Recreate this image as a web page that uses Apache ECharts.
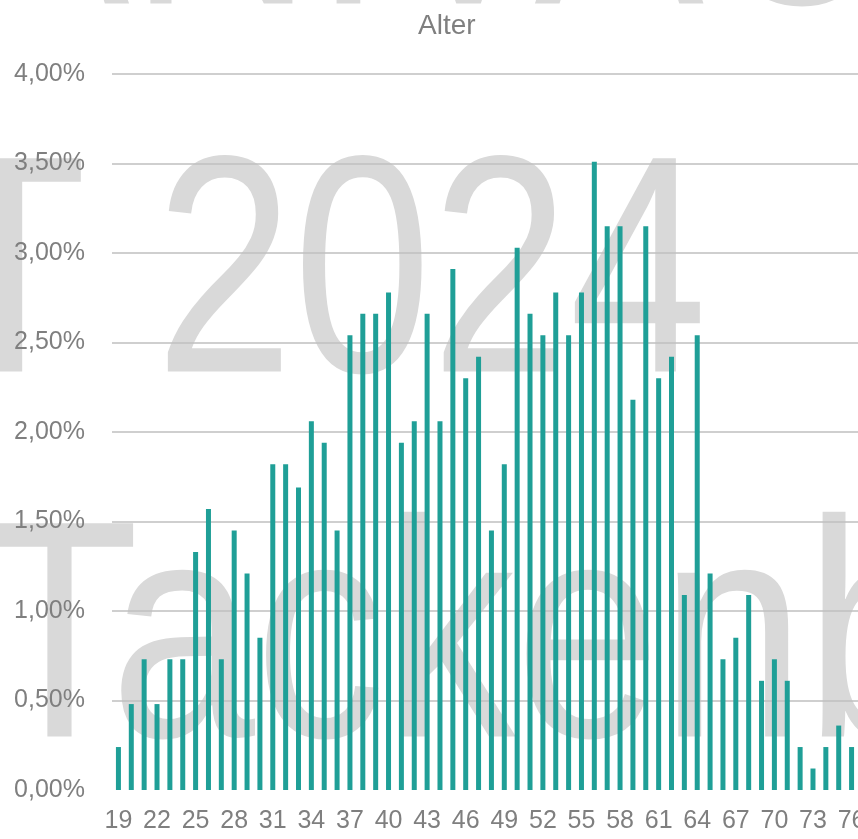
<!DOCTYPE html>
<html>
<head>
<meta charset="utf-8">
<script src="https://cdn.jsdelivr.net/npm/echarts@6/dist/echarts.min.js"></script>
<style>
html,body{margin:0;padding:0;background:#fff;}
#altersChart{width:858px;height:839px;}
</style>
</head>
<body>
<div id="altersChart"></div>
<script>
// Alter (Kategorien)
var alterData = ['19','20','21','22','23','24','25','26','27','28','29','30','31','32','33','34','35','36','37','38',
	'39','40','41','42','43','44','45','46','47','48','49','50','51','52','53','54','55','56','57','58',
	'59','60','61','62','63','64','65','66','67','68','69','70','71','72','73','74','75','76'];
// Anteil in %
var anteilData = [0.24,0.48,0.73,0.48,0.73,0.73,1.33,1.57,0.73,1.45,1.21,0.85,1.82,1.82,1.69,2.06,1.94,1.45,2.54,2.66,
	2.66,2.78,1.94,2.06,2.66,2.06,2.91,2.30,2.42,1.45,1.82,3.03,2.66,2.54,2.78,2.54,2.78,3.51,3.15,3.15,
	2.18,3.15,2.30,2.42,1.09,2.54,1.21,0.73,0.85,1.09,0.61,0.73,0.61,0.24,0.12,0.24,0.36,0.24];
// Wasserzeichen
var wasserzeichen = ['ANIVAC', 'T 2024', 'Tackenberg'];

var schrift = '"Liberation Sans", Arial, sans-serif';
var altersChart = echarts.init(document.getElementById('altersChart'));

function prozent(v){
	return v.toFixed(2).replace('.', ',') + '%';
}

//Wasserzeichen schmal gezogen
function wzText(txt, x, y, sx){
	return {
		type: 'text',
		z: -100,
		silent: true,
		x: x,
		y: y,
		scaleX: sx,
		style: {
			text: txt,
			fontSize: 310,
			fontFamily: schrift,
			fill: '#d9d9d9',
			verticalAlign: 'middle'
		}
	};
}

var option = {
	animation: false,
	backgroundColor: '#fff',
	title: {
		text: 'Alter',
		left: 413,
		top: 7,
		textStyle: {
			fontFamily: schrift,
			fontSize: 28,
			fontWeight: 'normal',
			color: '#7f7f7f'
		}
	},
	graphic: [
		wzText(wasserzeichen[0], -40, -82, 0.82),
		wzText(wasserzeichen[1], -65, 286, 0.80),
		wzText(wasserzeichen[2], -20, 651, 0.84)
	],
	grid: {
		left: 112,
		right: 0,
		top: 74,
		bottom: 49,
		outerBoundsMode: 'none'
	},
	xAxis: {
		type: 'category',
		data: alterData,
		axisLine: {show: false},
		axisTick: {show: false},
		axisLabel: {
			interval: 2,
			margin: 19,
			fontFamily: schrift,
			fontSize: 25,
			color: '#7f7f7f'
		}
	},
	yAxis: {
		type: 'value',
		min: 0,
		max: 4,
		interval: 0.5,
		axisLine: {show: false},
		axisTick: {show: false},
		splitLine: {
			showMinLine: false,
			lineStyle: {color: '#bfbfbf', width: 1.5}
		},
		axisLabel: {
			margin: 27,
			fontFamily: schrift,
			fontSize: 25,
			color: '#7f7f7f',
			formatter: prozent
		}
	},
	series: [{
		type: 'bar',
		data: anteilData,
		barWidth: 5,
		itemStyle: {color: '#1f9f97'}
	}]
};

altersChart.setOption(option);
</script>
</body>
</html>
